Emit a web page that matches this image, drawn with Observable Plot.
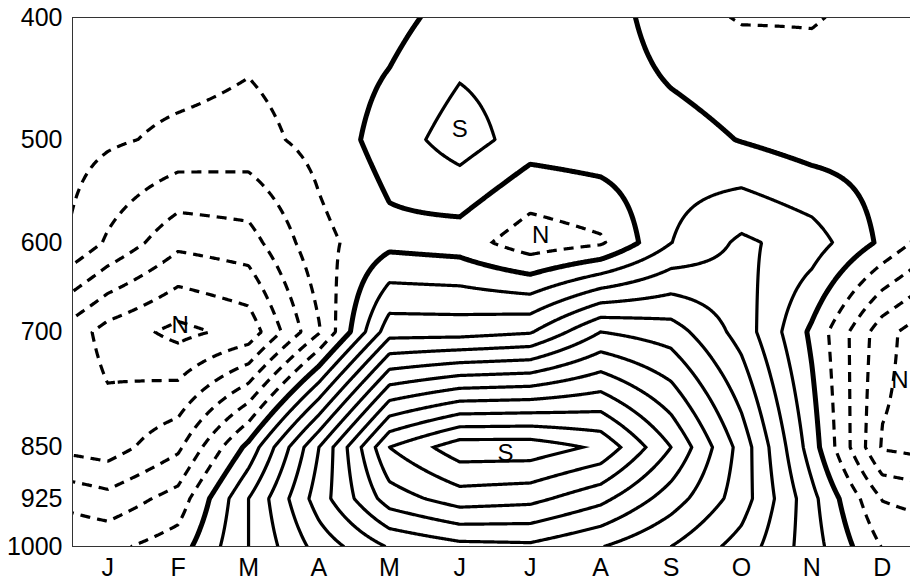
<!DOCTYPE html>
<html><head><meta charset="utf-8">
<script src="https://cdn.jsdelivr.net/npm/d3@7"></script>
<script src="https://cdn.jsdelivr.net/npm/@observablehq/plot@0.6"></script>
<style>html,body{margin:0;padding:0;background:#fff;} svg{display:block}</style>
</head><body><div id="chart"></div>
<script>
// Month tick labels and pressure levels (hPa)
const monthLabels = ["J","F","M","A","M","J","J","A","S","O","N","D"];
const levels = [400, 500, 600, 700, 850, 925, 1000];

// Values (one contour interval = 1), months J..D
const v400  = [-0.5, -0.3, -0.66, -0.5, -0.33, 0.42, 0.6, 0.66, -0.675, -1.06, -1.05, -0.78];
const v500  = [-0.85, -1.2, -1.35, -0.68, 0.47, 1.5, 0.5, 0.65, 0.49, -0.05, -0.5, -0.4];
const v600  = [-2.15, -3.75, -3.43, -1.3, -0.3, -0.5, -1.6, -1.15, 0.98, 2.2, 1.5, -0.2];
const v700  = [-5.4, -6.3, -5.64, -2.1, 2.6, 2.6, 2.9, 5.0, 4.5, 2.6, -0.2, -3.6];
const v850  = [-4.5, -3.2, 0.3, 5.0, 10.0, 11.6, 11.6, 10.8, 8.0, 4.6, 0.5, -4.1];
const v925  = [-2.67, -1.6, 2.0, 5.5, 8.5, 9.5, 9.3, 8.3, 6.5, 4.5, 1.3, -2.05];
const v1000 = [-1.25, -0.5, 2.0, 4.4, 6.1, 6.7, 6.8, 6.05, 5.0, 3.6, 1.45, -1.05];

// Extremum labels
const labelText  = ["S", "N", "S", "N", "N"];
const labelMonth = [6.0, 7.15, 6.65, 2.03, 12.25];
const labelP     = [491, 592, 858, 692, 760];

const negThresholds = [-7, -6, -5, -4, -3, -2, -1];
const zeroThreshold = [0];
const posThresholds = [1, 2, 3, 4, 5, 6, 7, 8, 9, 10, 11, 12];

// Build the grid table (annual cycle: Dec repeated before Jan, Jan after Dec)
const rows = [v400, v500, v600, v700, v850, v925, v1000];
const grid = [];
levels.forEach((p, i) => {
  for (let m = 0; m <= 13; m++) {
    grid.push({month: m, p, v: rows[i][(m + 11) % 12]});
  }
});

// Bilinear raster interpolation on the rectangular data grid (in screen space)
function gridInterpolate(index, width, height, X, Y, V) {
  const key = (t) => Math.round(t * 1000) / 1000;
  const xs = Array.from(new Set(Array.from(index, (i) => key(X[i])))).sort((a, b) => a - b);
  const ys = Array.from(new Set(Array.from(index, (i) => key(Y[i])))).sort((a, b) => a - b);
  const xi = new Map(xs.map((x, k) => [x, k]));
  const yi = new Map(ys.map((y, k) => [y, k]));
  const nx = xs.length;
  const G = new Float64Array(nx * ys.length).fill(NaN);
  for (const i of index) G[yi.get(key(Y[i])) * nx + xi.get(key(X[i]))] = V[i];
  const locate = (arr, t) => {
    let k = d3.bisectRight(arr, t) - 1;
    k = Math.max(0, Math.min(arr.length - 2, k));
    let f = (t - arr[k]) / (arr[k + 1] - arr[k]);
    f = Math.max(0, Math.min(1, f));
    return [k, f];
  };
  const W = new Float64Array(width * height);
  const cols = [];
  for (let px = 0; px < width; px++) cols.push(locate(xs, px + 0.5));
  for (let py = 0; py < height; py++) {
    const [j, v] = locate(ys, py + 0.5);
    for (let px = 0; px < width; px++) {
      const [i, u] = cols[px];
      const a = G[j * nx + i], b = G[j * nx + i + 1];
      const c = G[(j + 1) * nx + i], d = G[(j + 1) * nx + i + 1];
      W[py * width + px] = a * (1 - u) * (1 - v) + b * u * (1 - v) + c * (1 - u) * v + d * u * v;
    }
  }
  return W;
}

const font = "'Liberation Sans', Arial, Helvetica, sans-serif";
const common = {
  x: "month", y: "p", value: "v",
  interpolate: gridInterpolate, pixelSize: 1,
  x1: 0.3, x2: 12.75, y1: 385, y2: 1015,
  fill: "none", stroke: "black", clip: "frame",
  strokeLinejoin: "miter", strokeMiterlimit: 6
};

const chart = Plot.plot({
  width: 910,
  height: 586,
  marginTop: 17,
  marginBottom: 40,
  marginLeft: 72,
  marginRight: 0,
  style: {fontFamily: font, fontSize: "25px", background: "#fff", color: "black"},
  x: {domain: [0.5, 12.5], range: [72, 917]},
  y: {type: "pow", exponent: 0.15, domain: [400, 1000], range: [17, 546]},
  marks: [
    Plot.contour(grid, {...common, thresholds: negThresholds, strokeWidth: 3.2, strokeDasharray: "10,7"}),
    Plot.contour(grid, {...common, thresholds: posThresholds, strokeWidth: 3.2}),
    Plot.contour(grid, {...common, thresholds: zeroThreshold, strokeWidth: 5}),
    Plot.text(labelText, {x: labelMonth, y: labelP, text: d => d, fontSize: 24, fill: "black", fontFamily: font}),
    Plot.ruleY([400, 1000], {stroke: "#333", strokeWidth: 1}),
    Plot.ruleX([0.5], {stroke: "#333", strokeWidth: 1}),
    Plot.axisX(d3.range(1, 13), {tickSize: 0, tickPadding: 12, tickFormat: d => monthLabels[d - 1], fontSize: 25, label: null}),
    Plot.axisY(levels, {tickSize: 0, tickPadding: 10, tickFormat: d => String(d), fontSize: 25, label: null})
  ]
});
document.getElementById("chart").appendChild(chart);
</script>
</body></html>
